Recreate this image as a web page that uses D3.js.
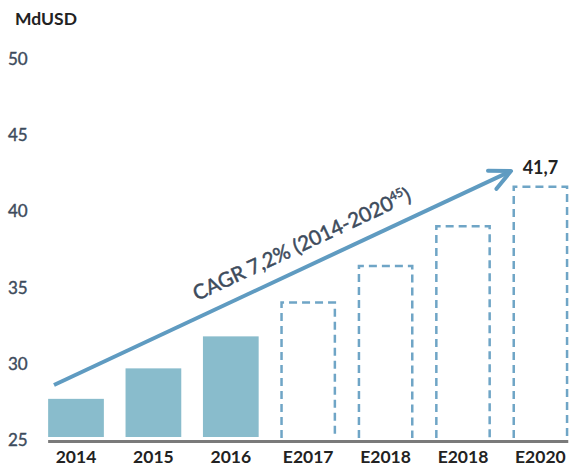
<!DOCTYPE html>
<html>
<head>
<meta charset="UTF-8">
<script src="https://cdn.jsdelivr.net/npm/d3@7/dist/d3.min.js"></script>
<style>
  body { margin: 0; background: #fff; }
  svg { display: block; font-family: Lato, "Open Sans", sans-serif; }
</style>
</head>
<body>
<svg id="chart" width="571" height="468"></svg>
<script>
  // values
  var years = ["2014", "2015", "2016", "E2017", "E2018", "E2018 ", "E2020"];
  var values = [27.7, 29.7, 31.8, 34.1, 36.5, 39.1, 41.7];
  var estimate = [false, false, false, true, true, true, true];
  var yTicks = [25, 30, 35, 40, 45, 50];
  var lastLabel = "41,7";

  var svg = d3.select("#chart");

  var x = d3.scaleBand()
      .domain(years)
      .range([37.3, 579.1])
      .paddingInner(0.28)
      .paddingOuter(0.14);

  var y = d3.scaleLinear().domain([25, 50]).range([440, 59]);

  var bars = years.map(function (d, i) {
    return { year: d, value: values[i], est: estimate[i] };
  });

  // unit label
  svg.append("text")
      .attr("x", 15).attr("y", 25)
      .attr("font-size", 17.5).attr("font-weight", "bold")
      .attr("fill", "#222")
      .text("MdUSD");

  // y tick labels (thin stroke to get the medium weight)
  svg.selectAll("text.ytick").data(yTicks).enter()
      .append("text")
      .attr("class", "ytick")
      .attr("x", 8)
      .attr("y", function (d) { return y(d); })
      .attr("dy", "0.35em")
      .attr("font-size", 17)
      .attr("fill", "#3d4b5c")
      .attr("stroke", "#3d4b5c")
      .attr("stroke-width", 0.4)
      .text(function (d) { return d; });

  // solid bars
  svg.selectAll("rect.actual").data(bars.filter(function (d) { return !d.est; })).enter()
      .append("rect")
      .attr("class", "actual")
      .attr("x", function (d) { return x(d.year); })
      .attr("y", function (d) { return y(d.value); })
      .attr("width", x.bandwidth())
      .attr("height", function (d) { return y(25) - 3 - y(d.value); })
      .attr("fill", "#89bccc");

  // estimated bars, dashed outline open at the bottom
  svg.selectAll("path.est").data(bars.filter(function (d) { return d.est; })).enter()
      .append("path")
      .attr("class", "est")
      .attr("d", function (d) {
        var x0 = x(d.year) + 1.2, x1 = x(d.year) + x.bandwidth() - 1.2;
        var top = y(d.value) + 1.2, bot = y(25) - 2;
        return ["M", x0, bot, "L", x0, top, "L", x1, top, "L", x1, bot].join(" ");
      })
      .attr("fill", "none")
      .attr("stroke", "#6fa5c6")
      .attr("stroke-width", 2.5)
      .attr("stroke-dasharray", "8,5");

  // baseline
  svg.append("line")
      .attr("x1", x(years[0])).attr("x2", x(years[6]) + x.bandwidth())
      .attr("y1", y(25) + 1.5).attr("y2", y(25) + 1.5)
      .attr("stroke", "#7a7a7a")
      .attr("stroke-width", 3);

  // x labels
  svg.selectAll("text.xlab").data(years).enter()
      .append("text")
      .attr("class", "xlab")
      .attr("x", function (d) { return x(d) + x.bandwidth() / 2; })
      .attr("y", 468 - 5)
      .attr("text-anchor", "middle")
      .attr("font-size", 17.5).attr("font-weight", "bold")
      .attr("fill", "#222")
      .text(function (d) { return d.trim(); });

  // CAGR arrow
  var a0 = { x: 54, y: 385 };
  var a1 = { x: 511, y: 171 };
  var ang = Math.atan2(a1.y - a0.y, a1.x - a0.x);
  var head = 23;
  var spread = 0.45;

  svg.append("line")
      .attr("x1", a0.x).attr("y1", a0.y)
      .attr("x2", a1.x).attr("y2", a1.y)
      .attr("stroke", "#5f9bc1")
      .attr("stroke-width", 4);

  svg.append("path")
      .attr("d", [
        "M", a1.x - head * Math.cos(ang - spread), a1.y - head * Math.sin(ang - spread),
        "L", a1.x, a1.y,
        "L", a1.x - head * Math.cos(ang + spread), a1.y - head * Math.sin(ang + spread)
      ].join(" "))
      .attr("fill", "none")
      .attr("stroke", "#5f9bc1")
      .attr("stroke-width", 4)
      .attr("stroke-linecap", "round")
      .attr("stroke-linejoin", "round");

  var cagr = svg.append("text")
      .attr("transform", "translate(197,301) rotate(" + (ang * 180 / Math.PI) + ")")
      .attr("font-size", 20.5)
      .attr("fill", "#3d4b5c")
      .attr("stroke", "#3d4b5c")
      .attr("stroke-width", 0.5);
  cagr.append("tspan").text("CAGR 7,2% (2014-2020");
  cagr.append("tspan").attr("font-size", 12).attr("dy", -8).text("45");
  cagr.append("tspan").attr("dy", 8).text(")");

  // end value
  svg.append("text")
      .attr("x", x(years[6]) + x.bandwidth() / 2)
      .attr("y", y(values[6]) - 11)
      .attr("text-anchor", "middle")
      .attr("font-size", 18).attr("font-weight", "bold")
      .attr("fill", "#222")
      .text(lastLabel);
</script>
</body>
</html>
